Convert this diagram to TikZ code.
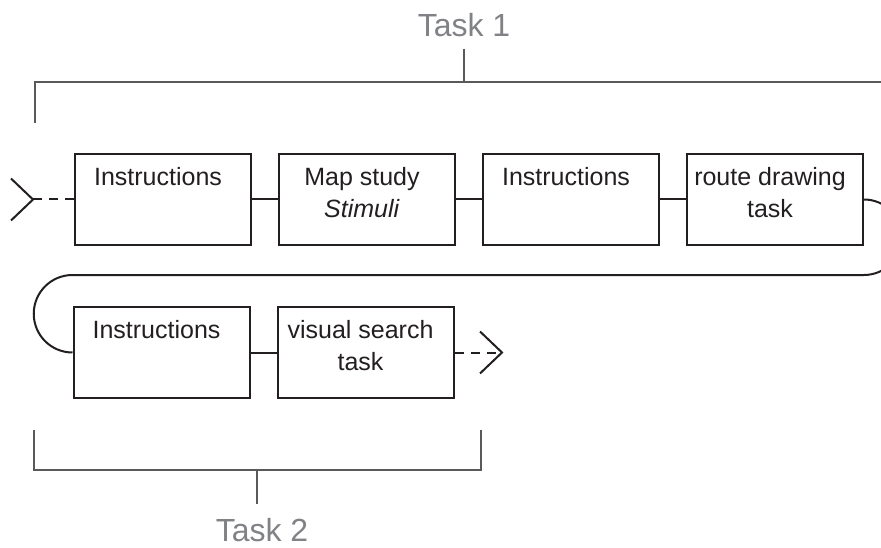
\documentclass[tikz,border=0pt]{standalone}
\usepackage{fontspec}
\setmainfont{Liberation Sans}
\usetikzlibrary{positioning}
\definecolor{ink}{HTML}{231F20}
\definecolor{brace}{HTML}{58595B}
\definecolor{tasktext}{HTML}{808285}
\tikzset{
  link/.style={draw=ink,line width=2pt},
  stage/.style={rectangle,draw=ink,line width=2pt,minimum width=176pt,minimum height=91pt,inner sep=0pt},
  stagetext/.style={anchor=north,yshift=-14.5pt,xshift=-5pt,align=center,inner sep=0pt,text=ink,
    font=\fontsize{25}{32}\selectfont},
  bracket/.style={draw=brace,line width=2pt},
  tasklabel/.style={text=tasktext,font=\fontsize{32}{38}\selectfont}
}

\begin{document}
\begin{tikzpicture}[x=1pt,y=-1pt,node distance=26pt]
\useasboundingbox (0,0) rectangle (881,548);
\clip (0,0) rectangle (881,548);
% first row
\node[stage,label={[stagetext]north:Instructions}] (i1) at (163,199.5) {};
\node[stage,right=of i1,label={[stagetext]north:Map study\\\textit{Stimuli}}] (m1) {};
\node[stage,right=of m1,label={[stagetext]north:Instructions}] (i3) {};
\node[stage,right=of i3,label={[stagetext]north:route drawing\\task}] (r1) {};
% second row
\node[stage,label={[stagetext]north:Instructions}] (i2) at (161.5,352.5) {};
\node[stage,right=of i2,label={[stagetext]north:visual search\\task}] (v1) {};

\draw[link] (i1) -- (m1);
\draw[link] (m1) -- (i3);
\draw[link] (i3) -- (r1);
\draw[link] (i2) -- (v1);
% u-turn from the first row down to the second
\draw[link] (r1.east) arc[start angle=90,end angle=-90,radius=37.75pt]
  -- ([yshift=77.5pt]i2.west) arc[start angle=90,end angle=270,radius=38.75pt];

% open ends
\coordinate (start) at (33,199.5);
\coordinate (stop) at (502,352.5);
\draw[link,dash pattern=on 9pt off 7pt] (start) -- (i1);
\draw[link] (start) ++(-22,-21) -- (start) -- ++(-22,21);
\draw[link,dash pattern=on 9pt off 7pt] (v1) -- (stop);
\draw[link] (stop) ++(-22,-21) -- (stop) -- ++(-22,21);

% task brackets
\node[tasklabel,anchor=base,inner sep=11pt] (t1) at (464,37) {Task 1};
\coordinate (b1) at (464,82);
\draw[bracket] (t1.south) -- (b1);
\draw[bracket] (35,123) -- (35,82) -- (b1) -- (890,82);

\node[tasklabel,anchor=north,inner sep=14pt] (t2) at (262,504) {Task 2};
\coordinate (b2) at (257,470);
\draw[bracket] (b2) -- (b2 |- t2.north);
\draw[bracket] (34,430) -- (34,470) -- (b2) -- (481,470) -- (481,430);
\end{tikzpicture}
\end{document}
